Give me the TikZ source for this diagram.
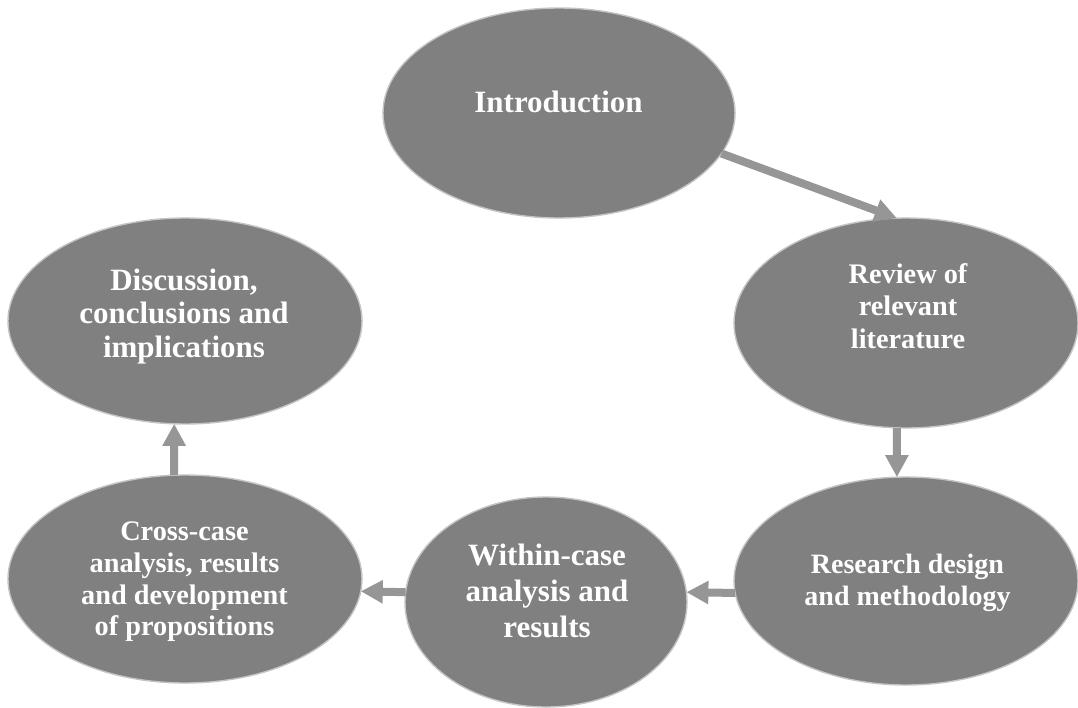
\documentclass[tikz,border=0pt]{standalone}
\usepackage{fontspec}
\setmainfont{Liberation Serif}
\usetikzlibrary{shapes.geometric,arrows.meta}
\definecolor{bubblefill}{HTML}{808080}
\definecolor{bubbleedge}{HTML}{C4C4C4}
\definecolor{flowgray}{HTML}{969696}
\begin{document}
\begin{tikzpicture}[x=1pt,y=-1pt,
  bubble/.style={ellipse,fill=bubblefill,draw=bubbleedge,line width=1.4pt,
    inner sep=0pt,outer sep=0pt},
  bigtext/.style={text=white,align=center,inner sep=0pt,
    font=\fontsize{31}{35}\selectfont\bfseries},
  smalltext/.style={text=white,align=center,inner sep=0pt,
    font=\fontsize{28.3}{32.3}\selectfont\bfseries},
  flow/.style={draw=flowgray,line width=8pt,
    -{Triangle[width=22pt,length=22pt]},color=flowgray}]
\useasboundingbox (0,0) rectangle (1078,707);

% the six stages
\node[bubble,minimum width=352pt,minimum height=210pt] (intro) at (559,113) {};
\node[bubble,minimum width=344pt,minimum height=210pt] (review) at (906,323) {};
\node[bubble,minimum width=344pt,minimum height=208pt] (research) at (906,581) {};
\node[bubble,minimum width=282pt,minimum height=210pt] (within) at (546,602) {};
\node[bubble,minimum width=354pt,minimum height=208pt] (cross) at (185,579) {};
\node[bubble,minimum width=354pt,minimum height=206pt] (discuss) at (185,321) {};

% stage labels
\node[bigtext] (t-intro) at (558.5,101.5) {Introduction};
\node[smalltext] (t-review) at (908,306) {Review of\\relevant\\literature};
\node[smalltext,font=\fontsize{28}{32}\selectfont\bfseries] (t-research) at (907.5,582.5) {Research design\\and methodology};
\node[bigtext,font=\fontsize{31}{36}\selectfont\bfseries] (t-within) at (547,590.5) {Within-case\\analysis and\\results};
\node[smalltext,font=\fontsize{28.3}{31.7}\selectfont\bfseries] (t-cross) at (184.5,582) {Cross-case\\analysis, results\\and development\\of propositions};
\node[bigtext,font=\fontsize{31}{33.5}\selectfont\bfseries] (t-discuss) at (184,316.5) {Discussion,\\conclusions and\\implications};

% flow between stages
\draw[flow] (intro.-14) -- (review.95);
\draw[flow] (review.265) -- (research.95);
\draw[flow] (research.184) -- (within.4);
\draw[flow] (within.176) -- (cross.-4);
\draw[flow] (cross.96) -- (discuss.264);
\end{tikzpicture}
\end{document}
